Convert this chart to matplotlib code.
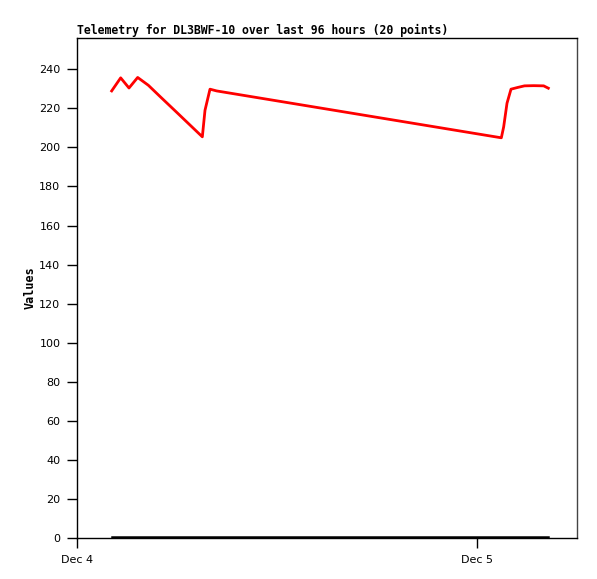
import datetime as dt
import matplotlib
matplotlib.use("Agg")
import matplotlib.pyplot as plt
import matplotlib.dates as mdates

# Hours after Dec 4 00:00
hours = [2.08, 2.62, 3.12, 3.64, 4.28, 5.0, 6.0, 7.52, 7.68, 7.98,
         8.38, 25.46, 25.6, 25.8, 26.04, 26.45, 26.85, 27.4, 28.0, 28.28]
# Telemetry values
red_values = [228.9, 235.6, 230.4, 235.8, 231.8, 225.9, 217.8, 205.4, 219.0, 229.8,
              228.9, 204.9, 210.5, 222.6, 229.8, 230.7, 231.5, 231.6, 231.5, 230.3]
black_values = [0.3] * 20

start = dt.datetime(2023, 12, 4)
times = [start + dt.timedelta(hours=h) for h in hours]

fig = plt.figure(figsize=(5.97, 5.79), dpi=100)
ax = fig.add_axes([77 / 597, 41 / 579, 500 / 597, 500 / 579])

ax.plot(times, black_values, color='black', linewidth=1.8)
ax.plot(times, red_values, color='red', linewidth=2.0)

ax.set_xlim(start, start + dt.timedelta(hours=30))
ax.set_ylim(0, 256)
ax.set_yticks(range(0, 241, 20))
ax.xaxis.set_major_locator(mdates.DayLocator())
ax.xaxis.set_major_formatter(plt.FuncFormatter(
    lambda v, p: 'Dec %d' % mdates.num2date(v).day))

ax.tick_params(direction='out', length=7, width=1, labelsize=8, pad=5)
for s in ax.spines.values():
    s.set_linewidth(1)
ax.spines['right'].set_color('#444444')

ax.set_title('Telemetry for DL3BWF-10 over last 96 hours (20 points)',
             loc='left', fontsize=8.3, fontfamily='DejaVu Sans Mono',
             fontweight='bold', pad=3)
ax.set_ylabel('Values', fontsize=8.5, fontfamily='DejaVu Sans Mono',
              fontweight='bold', labelpad=2)

fig.savefig('out.png', dpi=100)
